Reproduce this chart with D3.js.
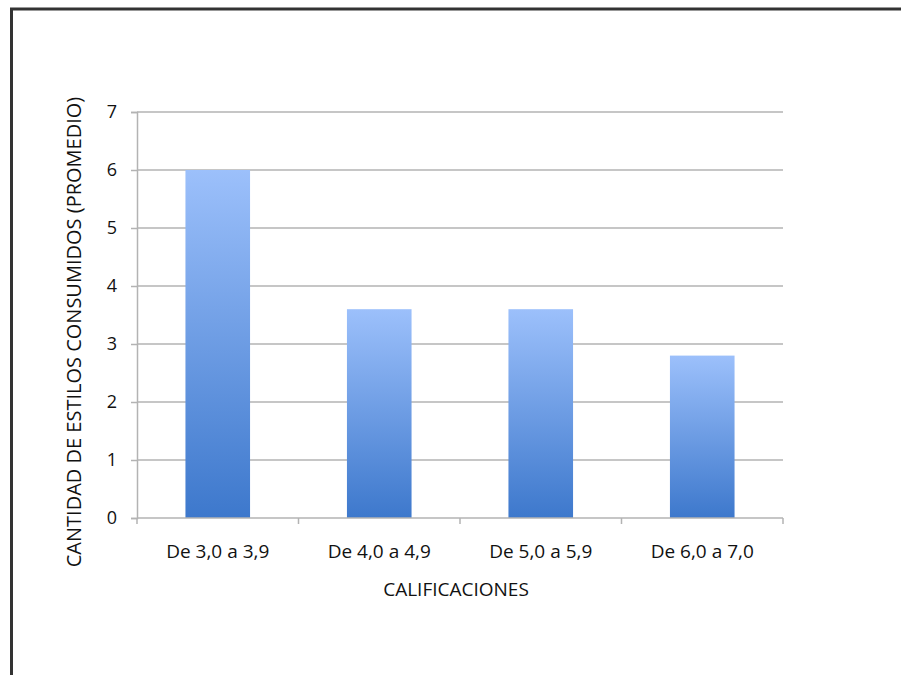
<!DOCTYPE html>
<html>
<head>
<meta charset="utf-8">
<script src="https://cdn.jsdelivr.net/npm/d3@7/dist/d3.min.js"></script>
<style>
  html, body { margin: 0; padding: 0; background: #fff; }
  svg { display: block; }
  text { font-family: "Open Sans", "Liberation Sans", sans-serif; fill: #111; }
</style>
</head>
<body>
<svg id="chart" width="901" height="675"></svg>
<script>
// Grade ranges and average number of styles consumed
const categories = ["De 3,0 a 3,9", "De 4,0 a 4,9", "De 5,0 a 5,9", "De 6,0 a 7,0"];
const values = [6.0, 3.6, 3.6, 2.8];
const yTicks = [0, 1, 2, 3, 4, 5, 6, 7];
const xTitle = "CALIFICACIONES";
const yTitle = "CANTIDAD DE ESTILOS CONSUMIDOS (PROMEDIO)";

const svg = d3.select("#chart");

// Frame edges (top and left)
svg.append("rect").attr("x", 0).attr("y", 0).attr("width", 901).attr("height", 675).attr("fill", "#fff");
svg.append("line").attr("x1", 10).attr("x2", 901).attr("y1", 9).attr("y2", 9)
  .attr("stroke", "#333").attr("stroke-width", 3);
svg.append("line").attr("x1", 11.5).attr("x2", 11.5).attr("y1", 8).attr("y2", 675)
  .attr("stroke", "#333").attr("stroke-width", 3);

const plot = { left: 137, right: 783, top: 112, bottom: 518 };

const x = d3.scaleBand().domain(categories).range([plot.left, plot.right]).paddingInner(0.6).paddingOuter(0.3);
const xOuter = d3.scaleBand().domain(categories).range([plot.left, plot.right]);
const y = d3.scaleLinear().domain([0, 7]).range([plot.bottom, plot.top]);

// Bar gradient
const defs = svg.append("defs");
const grad = defs.append("linearGradient").attr("id", "barGrad")
  .attr("x1", 0).attr("y1", 0).attr("x2", 0).attr("y2", 1);
grad.append("stop").attr("offset", "0%").attr("stop-color", "#9cc0fb");
grad.append("stop").attr("offset", "100%").attr("stop-color", "#3d78cc");

const gridColor = "#b3b3b3";

// Horizontal gridlines
svg.append("g").selectAll("line").data(yTicks.filter(d => d > 0)).join("line")
  .attr("x1", plot.left).attr("x2", plot.right)
  .attr("y1", d => y(d)).attr("y2", d => y(d))
  .attr("stroke", gridColor).attr("stroke-width", 1.5);

// Y axis
const yAxis = svg.append("g").attr("transform", `translate(${plot.left},0)`)
  .call(d3.axisLeft(y).tickValues(yTicks).tickSize(6).tickPadding(14).tickFormat(d3.format("d")));
yAxis.select(".domain").attr("stroke", gridColor).attr("stroke-width", 1.5);
yAxis.selectAll(".tick line").attr("stroke", gridColor).attr("stroke-width", 1.5);
yAxis.selectAll(".tick text").style("font-size", "18px").attr("fill", "#111");

// Bars
svg.append("g").selectAll("rect").data(values).join("rect")
  .attr("x", (d, i) => x(categories[i]))
  .attr("width", x.bandwidth())
  .attr("y", d => y(d))
  .attr("height", d => y(0) - y(d))
  .attr("fill", "url(#barGrad)");

// X axis with boundary ticks between categories
const xAxisG = svg.append("g").attr("transform", `translate(0,${plot.bottom})`);
xAxisG.append("line").attr("x1", plot.left).attr("x2", plot.right).attr("y1", 0).attr("y2", 0)
  .attr("stroke", gridColor).attr("stroke-width", 1.5);
const boundaries = categories.map(c => xOuter(c)).concat([plot.right]);
xAxisG.selectAll("line.b").data(boundaries).join("line").attr("class", "b")
  .attr("x1", d => d).attr("x2", d => d).attr("y1", 0).attr("y2", 6)
  .attr("stroke", gridColor).attr("stroke-width", 1.5);
xAxisG.selectAll("text").data(categories).join("text")
  .attr("x", d => xOuter(d) + xOuter.bandwidth() / 2)
  .attr("y", 40)
  .attr("text-anchor", "middle")
  .style("font-size", "19px")
  .text(d => d);

// Axis titles
svg.append("text")
  .attr("x", (plot.left + plot.right) / 2 - 4).attr("y", 596)
  .attr("text-anchor", "middle").style("font-size", "19px")
  .text(xTitle);

svg.append("text")
  .attr("transform", `translate(81,332) rotate(-90)`)
  .attr("text-anchor", "middle").style("font-size", "20px")
  .text(yTitle);
</script>
</body>
</html>
